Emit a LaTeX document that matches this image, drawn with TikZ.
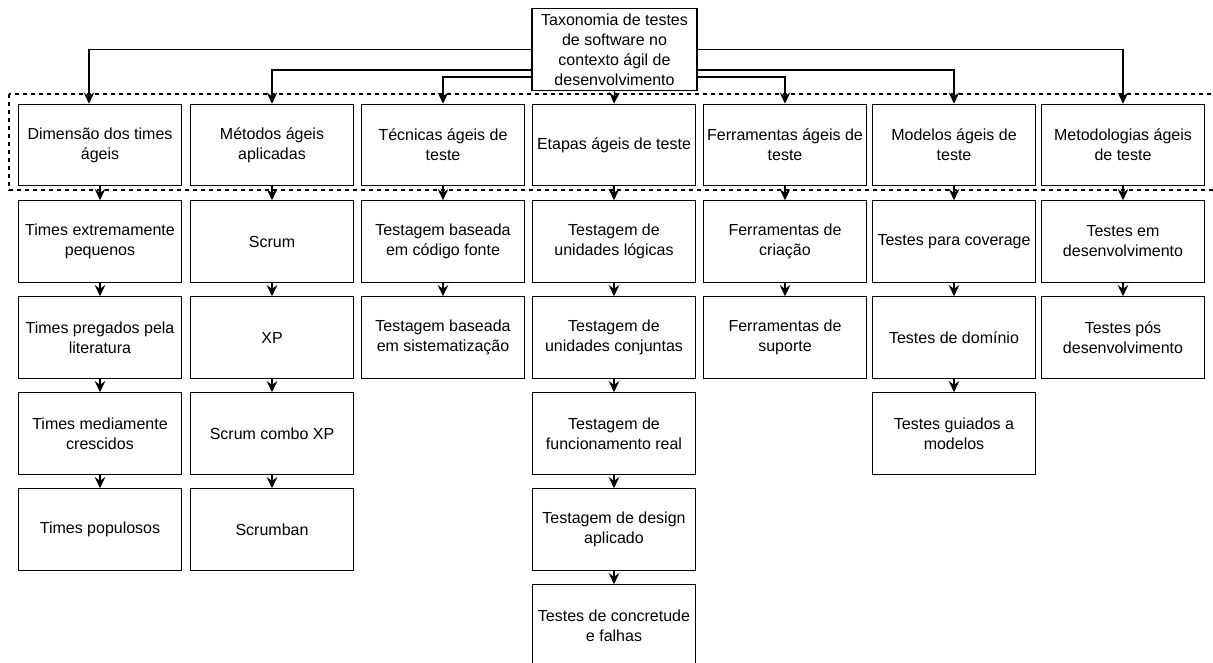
\documentclass[tikz,border=0pt]{standalone}
\usepackage{fontspec}
\setmainfont{Liberation Sans}
\usetikzlibrary{arrows.meta}
\begin{document}
\begin{tikzpicture}[x=0.75pt,y=-0.75pt,
    caixa/.style={draw, line width=0.9pt, minimum width=122.25pt, minimum height=61pt, align=center, inner sep=1pt, font=\fontsize{12}{15}\selectfont},
    seta/.style={line width=0.9pt, -{Stealth[length=8.5pt,width=8pt,inset=3pt]}}]
    \useasboundingbox (0,0) rectangle (1213,662);
    \node[caixa, minimum width=123.75pt] (tax) at (614.5,49.5) {Taxonomia de testes\\de software no\\contexto ágil de\\desenvolvimento};
    \draw[dashed, line width=0.8pt] (9,94) rectangle (1218,190);
    \node[caixa] (dim) at (100,145) {Dimensão dos times\\ágeis};
    \node[caixa] (met) at (272,145) {Métodos ágeis\\aplicadas};
    \node[caixa] (tec) at (443,145) {Técnicas ágeis de\\teste};
    \node[caixa] (eta) at (614,145) {Etapas ágeis de teste};
    \node[caixa] (fer) at (785,145) {Ferramentas ágeis de\\teste};
    \node[caixa] (mod) at (954,145) {Modelos ágeis de\\teste};
    \node[caixa] (mtd) at (1123,145) {Metodologias ágeis\\de teste};
    \draw[seta] (tax.west) -| ([xshift=-8.25pt]dim.north);
    \draw[seta] (tax.east) -| (mtd.north);
    \draw[seta] (tax.west|-0,70) -| (met.north);
    \draw[seta] (tax.east|-0,70) -| (mod.north);
    \draw[seta] (tax.west|-0,77) -| (tec.north);
    \draw[seta] (tax.east|-0,77) -| (fer.north);
    \draw[seta] (tax.south) -- (eta.north);
    \node[caixa] (d1) at (100,241.5) {Times extremamente\\pequenos};
    \node[caixa] (d2) at (100,337.5) {Times pregados pela\\literatura};
    \node[caixa] (d3) at (100,433.5) {Times mediamente\\crescidos};
    \node[caixa] (d4) at (100,529.5) {Times populosos};
    \node[caixa] (m1) at (272,241.5) {Scrum};
    \node[caixa] (m2) at (272,337.5) {XP};
    \node[caixa] (m3) at (272,433.5) {Scrum combo XP};
    \node[caixa] (m4) at (272,529.5) {Scrumban};
    \node[caixa] (t1) at (443,241.5) {Testagem baseada\\em código fonte};
    \node[caixa] (t2) at (443,337.5) {Testagem baseada\\em sistematização};
    \node[caixa] (e1) at (614,241.5) {Testagem de\\unidades lógicas};
    \node[caixa] (e2) at (614,337.5) {Testagem de\\unidades conjuntas};
    \node[caixa] (e3) at (614,433.5) {Testagem de\\funcionamento real};
    \node[caixa] (e4) at (614,529.5) {Testagem de design\\aplicado};
    \node[caixa] (e5) at (614,625.5) {Testes de concretude\\e falhas};
    \node[caixa] (f1) at (785,241.5) {Ferramentas de\\criação};
    \node[caixa] (f2) at (785,337.5) {Ferramentas de\\suporte};
    \node[caixa] (o1) at (954,241.5) {Testes para coverage};
    \node[caixa] (o2) at (954,337.5) {Testes de domínio};
    \node[caixa] (o3) at (954,433.5) {Testes guiados a\\modelos};
    \node[caixa] (g1) at (1123,241.5) {Testes em\\desenvolvimento};
    \node[caixa] (g2) at (1123,337.5) {Testes pós\\desenvolvimento};
    \foreach \a/\b in {dim/d1,d1/d2,d2/d3,d3/d4,met/m1,m1/m2,m2/m3,m3/m4,tec/t1,t1/t2,eta/e1,e1/e2,e2/e3,e3/e4,e4/e5,fer/f1,f1/f2,mod/o1,o1/o2,o2/o3,mtd/g1,g1/g2}
        \draw[seta] (\a.south) -- (\b.north);
\end{tikzpicture}
\end{document}
